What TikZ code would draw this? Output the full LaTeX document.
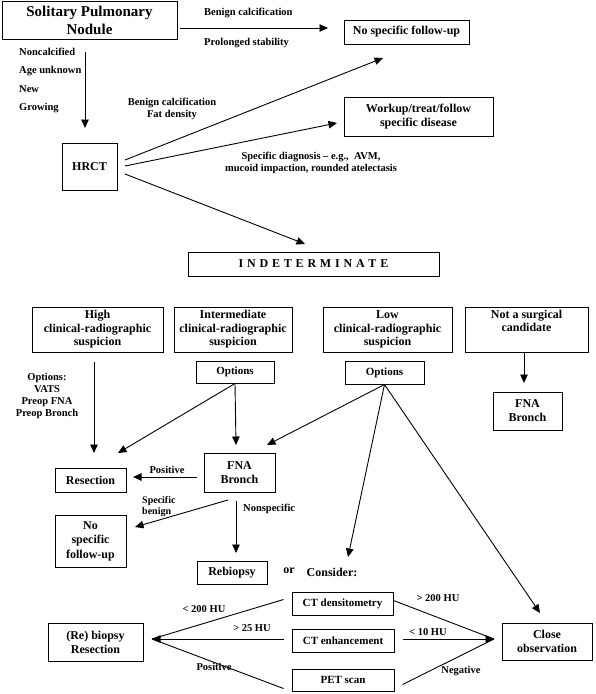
\documentclass[tikz,border=0pt]{standalone}
\usepackage{fontspec}
\setmainfont{Liberation Serif}
\usetikzlibrary{arrows.meta}
\newcommand\lsp{\kern3.8pt}
\begin{document}
\begin{tikzpicture}[x=1pt,y=-1pt,
  bx/.style={draw, line width=1pt, inner sep=0pt, align=center, font=\bfseries\fontsize{12}{14}\selectfont},
  sbx/.style={bx, font=\bfseries\fontsize{11}{13}\selectfont},
  lbl/.style={inner sep=0pt, align=center, font=\bfseries\fontsize{10.5}{12.5}\selectfont},
  arr/.style={line width=0.9pt, -{Triangle[length=8.5pt,width=7.5pt]}},
  ln/.style={line width=0.9pt}]
\useasboundingbox (0,0) rectangle (595,694);

% ---------- boxes ----------
\node[bx, font=\bfseries\fontsize{15}{18}\selectfont, minimum width=175pt, minimum height=38pt] (spn) at (89.5,20) {Solitary Pulmonary\\Nodule};
\node[bx, minimum width=125pt, minimum height=24pt] (nsf1) at (406.5,32) {No specific follow-up};
\node[bx, minimum width=55pt, minimum height=47pt] (hrct) at (89.5,166.5) {HRCT};
\node[bx, minimum width=149pt, minimum height=39pt] (work) at (418.5,116.5) {Workup/treat/follow\\specific disease};
\node[bx, minimum width=251pt, minimum height=24pt] (indet) at (313.5,264) {I\lsp N\lsp D\lsp E\lsp T\lsp E\lsp R\lsp M\lsp I\lsp N\lsp A\lsp T\lsp E};
\node[bx, minimum width=131pt, minimum height=45pt, font=\bfseries\fontsize{12}{13.5}\selectfont] (high) at (97.5,329.5) {High\\clinical-radiographic\\suspicion};
\node[bx, minimum width=118pt, minimum height=45pt, font=\bfseries\fontsize{12}{13.5}\selectfont] (inter) at (233,329.5) {Intermediate\\clinical-radiographic\\suspicion};
\node[bx, minimum width=129pt, minimum height=45pt, font=\bfseries\fontsize{12}{13.5}\selectfont] (low) at (387.5,329.5) {Low\\clinical-radiographic\\suspicion};
\node[bx, minimum width=123pt, minimum height=45pt, font=\bfseries\fontsize{12}{13.5}\selectfont] (notsurg) at (526.5,329.5) {Not a surgical\\candidate\\\strut};
\node[sbx, minimum width=78pt, minimum height=22pt] (opt1) at (235,372) {Options};
\node[sbx, minimum width=79pt, minimum height=23pt] (opt2) at (384.5,372.5) {Options};
\node[bx, minimum width=69pt, minimum height=38pt] (fna2) at (527.5,411) {FNA\\Bronch};
\node[bx, minimum width=71pt, minimum height=39pt] (fna1) at (239.5,472.5) {FNA\\Bronch};
\node[bx, minimum width=71pt, minimum height=24pt] (resec) at (90.5,480) {Resection};
\node[bx, minimum width=71pt, minimum height=52pt, font=\bfseries\fontsize{12}{14.5}\selectfont] (nsf2) at (90.5,541) {No\\specific\\follow-up};
\node[bx, minimum width=70pt, minimum height=23pt] (rebiopsy) at (232,572.5) {Rebiopsy};
\node[sbx, minimum width=101pt, minimum height=23pt] (ctd) at (342.5,603.5) {CT densitometry};
\node[sbx, minimum width=102pt, minimum height=23pt] (cte) at (343,640.5) {CT enhancement};
\node[sbx, minimum width=102pt, minimum height=22pt] (pet) at (343,680) {PET scan};
\node[bx, minimum width=95pt, minimum height=38pt] (rebres) at (95.5,642) {(Re) biopsy\\Resection};
\node[bx, minimum width=90pt, minimum height=37pt] (close) at (547,641.5) {Close\\observation};

% ---------- labels ----------
\node[lbl, anchor=west] (l1) at (204,13) {Benign calcification};
\node[lbl, anchor=west] (l2) at (204,43) {Prolonged stability};
\node[lbl, anchor=west] (l3) at (19,52) {Noncalcified};
\node[lbl, anchor=west] (l4) at (19,71) {Age unknown};
\node[lbl, anchor=west] (l5) at (19,89) {New};
\node[lbl, anchor=west] (l6) at (19,108) {Growing};
\node[lbl, font=\bfseries\fontsize{10.5}{12}\selectfont] (l7) at (172,109) {Benign calcification\\Fat density};
\node[lbl, font=\bfseries\fontsize{10.5}{12}\selectfont] (l8) at (311,163) {Specific diagnosis -- e.g.,\ \ AVM,\\mucoid impaction, rounded atelectasis};
\node[lbl, font=\bfseries\fontsize{10.5}{12}\selectfont] (l9) at (47,396) {Options:\\VATS\\Preop FNA\\Preop Bronch};
\node[lbl] (l10) at (167,470) {Positive};
\node[lbl, anchor=west, align=left, font=\bfseries\fontsize{10}{11}\selectfont] (l11) at (142,506.5) {Specific\\benign};
\node[lbl, anchor=west] (l12) at (243,509) {Nonspecific};
\node[lbl, font=\bfseries\fontsize{12}{14}\selectfont] (l13) at (289,571) {or};
\node[lbl, font=\bfseries\fontsize{12}{14}\selectfont] (l14) at (332,572) {Consider:};
\node[lbl] (l15) at (204,609) {< 200 HU};
\node[lbl] (l16) at (252,628) {> 25 HU};
\node[lbl] (l17) at (214,667) {Positive};
\node[lbl] (l18) at (438,598) {> 200 HU};
\node[lbl] (l19) at (428,632) {< 10 HU};
\node[lbl] (l20) at (461,671) {Negative};

% ---------- connector end points ----------
\coordinate (a1s) at (180,28);  \coordinate (a1e) at (328,28);
\coordinate (a2s) at (85,52);   \coordinate (a2e) at (85,128);
\coordinate (h1) at (125,160);  \coordinate (h1e) at (383,58);
\coordinate (h2) at (125,166);  \coordinate (h2e) at (337,123);
\coordinate (h3) at (125,174);  \coordinate (h3e) at (305,244);
\coordinate (hs) at (94,362);   \coordinate (he) at (94,453);
\coordinate (o1a) at (118,453); \coordinate (o1b) at (236,445);
\coordinate (o2a) at (267,445); \coordinate (o2b) at (348,557); \coordinate (o2c) at (540,613);
\coordinate (ns) at (524,352);  \coordinate (nse) at (524,383);
\coordinate (ps) at (197,477);  \coordinate (pe) at (133,477);
\coordinate (sbs) at (228,500); \coordinate (sbe) at (135,527);
\coordinate (nss) at (236,501); \coordinate (nse2) at (236,553);
\coordinate (lm) at (152,639);
\coordinate (rm) at (494,639);

% ---------- connectors ----------
\draw[arr] (a1s) -- (a1e);
\draw[arr] (a2s) -- (a2e);
\draw[arr] (h1) -- (h1e);
\draw[arr] (h2) -- (h2e);
\draw[arr] (h3) -- (h3e);
\draw[arr] (hs) -- (he);
\draw[arr] (opt1.south) -- (o1a);
\draw[arr] (opt1.south) -- (o1b);
\draw[arr] (opt2.south) -- (o2a);
\draw[arr] (opt2.south) -- (o2b);
\draw[arr] (opt2.south) -- (o2c);
\draw[arr] (ns) -- (nse);
\draw[arr] (ps) -- (pe);
\draw[arr] (sbs) -- (sbe);
\draw[arr] (nss) -- (nse2);

\draw[ln] ([xshift=-8pt,yshift=4pt]ctd.west) -- (lm);
\draw[arr] ([xshift=-8pt]cte.west |- lm) -- (lm);
\draw[ln] ([xshift=-8pt,yshift=3pt]pet.south west) -- (lm);

\draw[ln] ([yshift=3pt]ctd.east) -- (rm);
\draw[arr] ([xshift=8pt]cte.east |- rm) -- (rm);
\draw[ln] ([xshift=8pt,yshift=7pt]pet.south east) -- (rm);
\end{tikzpicture}
\end{document}
